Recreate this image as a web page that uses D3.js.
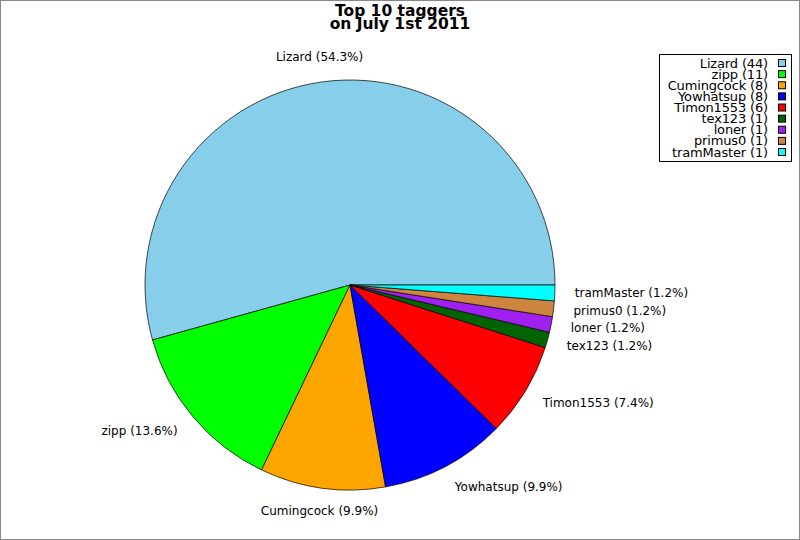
<!DOCTYPE html>
<html>
<head>
<meta charset="utf-8">
<script src="https://cdn.jsdelivr.net/npm/d3@7"></script>
<style>
  body { margin: 0; background: #fff; }
  svg { display: block; font-family: "DejaVu Sans", sans-serif; }
</style>
</head>
<body>
<div id="chart"></div>
<script>
// dados
const names = ["Lizard", "zipp", "Cumingcock", "Yowhatsup", "Timon1553", "tex123", "loner", "primus0", "tramMaster"];
const counts = [44, 11, 8, 8, 6, 1, 1, 1, 1];
const colors = ["#87ceeb", "#00ff00", "#ffa500", "#0000ff", "#ff0000", "#006400", "#a020f0", "#cd853f", "#00ffff"];
const titleLines = ["Top 10 taggers", "on July 1st 2011"];

const width = 800;
const height = 540;
const cx = 350, cy = 285, radius = 205;

const svg = d3.select("#chart").append("svg")
  .attr("width", width)
  .attr("height", height);

svg.append("rect")
  .attr("x", 0.5).attr("y", 0.5)
  .attr("width", width - 1).attr("height", height - 1)
  .attr("fill", "#fff").attr("stroke", "#888");

// titulo
svg.append("g").selectAll("text")
  .data(titleLines)
  .join("text")
  .attr("x", 400)
  .attr("y", (d, i) => 16 + i * 13)
  .attr("text-anchor", "middle")
  .attr("font-weight", "bold")
  .attr("font-size", "15.5px")
  .text(d => d);

const data = names.map((n, i) => ({ name: n, value: counts[i], color: colors[i] }));
const total = d3.sum(counts);

// fatias anti-horario a partir das 3h
const pie = d3.pie().sort(null).value(d => d.value)
  .startAngle(Math.PI / 2).endAngle(Math.PI / 2 - 2 * Math.PI);
const arcs = pie(data);
const arc = d3.arc().innerRadius(0).outerRadius(radius);

const gPie = svg.append("g").attr("transform", `translate(${cx},${cy})`);
gPie.selectAll("path")
  .data(arcs)
  .join("path")
  .attr("d", arc)
  .attr("fill", d => d.data.color)
  .attr("stroke", "#000")
  .attr("stroke-width", 0.7);

// rotulos
const labels = svg.append("g").attr("font-size", "12px");
arcs.forEach(d => {
  const mid = (d.startAngle + d.endAngle) / 2;
  const a = Math.PI / 2 - mid; // angulo matematico
  const c = Math.cos(a), s = Math.sin(a);
  const anchor = Math.abs(c) < 0.3 ? "middle" : (c > 0 ? "start" : "end");
  const pct = (d.data.value / total * 100).toFixed(1);
  labels.append("text")
    .attr("x", cx + 225 * c)
    .attr("y", cy - 229 * s - 1)
    .attr("dy", "0.35em")
    .attr("text-anchor", anchor)
    .text(`${d.data.name} (${pct}%)`);
});

// legenda
const lg = svg.append("g");
lg.append("rect")
  .attr("x", 659.5).attr("y", 54.5)
  .attr("width", 132).attr("height", 107)
  .attr("fill", "#fff").attr("stroke", "#000");
const rowY = d3.scalePoint().domain(names).range([63, 152]);
lg.selectAll("text")
  .data(data)
  .join("text")
  .attr("x", 768)
  .attr("y", d => rowY(d.name) + 4.5)
  .attr("text-anchor", "end")
  .attr("font-size", "13px")
  .attr("letter-spacing", "-0.15")
  .text(d => `${d.name} (${d.value})`);
lg.selectAll("rect.sw")
  .data(data)
  .join("rect")
  .attr("class", "sw")
  .attr("x", 778.5)
  .attr("y", d => rowY(d.name) - 3.5)
  .attr("width", 7).attr("height", 7)
  .attr("fill", d => d.color)
  .attr("stroke", "#000");
</script>
</body>
</html>
